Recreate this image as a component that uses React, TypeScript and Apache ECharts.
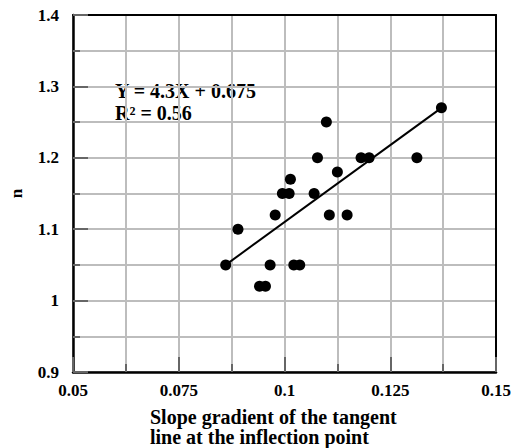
import React, { useEffect, useRef } from "react";
import * as echarts from "echarts";

const slopeGradient = [
  0.0861, 0.089, 0.0941, 0.0955, 0.0966, 0.0978, 0.0995, 0.1011, 0.1014, 0.1022,
  0.1036, 0.107, 0.1078, 0.1099, 0.1106, 0.1125, 0.1148, 0.1181, 0.12, 0.1313, 0.1371,
];
const nValues = [
  1.05, 1.1, 1.02, 1.02, 1.05, 1.12, 1.15, 1.15, 1.17, 1.05,
  1.05, 1.15, 1.2, 1.25, 1.12, 1.18, 1.12, 1.2, 1.2, 1.2, 1.27,
];
const trendX = [0.0861, 0.1371];
const trendY = [1.05, 1.27];
const equationLines = ["Y = 4.3X + 0.675", "R² = 0.56"];
const xTitleLines = ["Slope gradient of the tangent", "line at the inflection point"];
const yTitle = "n";

const FONT = "'Liberation Serif', 'Times New Roman', serif";

export default function App() {
  const ref = useRef<HTMLDivElement>(null);
  useEffect(() => {
    document.body.style.margin = "0";
    const chart = echarts.init(ref.current!, null, { renderer: "svg" });
    const gridLine = { show: true, lineStyle: { color: "#bdbdbd", width: 2, type: "solid", opacity: 1 } };
    const frameAxis = {
      type: "value",
      axisLine: { show: true, onZero: false, lineStyle: { color: "#000", width: 2 } },
      axisTick: { show: false },
      axisLabel: { show: false },
      splitLine: { show: false },
    };
    chart.setOption({
      animation: false,
      backgroundColor: "#fff",
      grid: { left: 67, top: 15, right: 23, bottom: 76 },
      xAxis: [
        {
          type: "value", min: 0.05, max: 0.15, interval: 0.025,
          axisLine: { show: true, onZero: false, lineStyle: { color: "#000", width: 2.5 } },
          axisTick: { show: true, inside: true, length: 15, lineStyle: { color: "#666", width: 2 } },
          minorTick: { show: true, splitNumber: 2, length: 8, lineStyle: { color: "#666", width: 2 } },
          splitLine: gridLine,
          minorSplitLine: gridLine,
          axisLabel: { color: "#000", fontFamily: FONT, fontWeight: "bold", fontSize: 17, margin: 10 },
        },
        { ...frameAxis, position: "top", min: 0.05, max: 0.15 },
      ],
      yAxis: [
        {
          type: "value", min: 0.9, max: 1.4, interval: 0.1,
          name: yTitle, nameLocation: "middle", nameGap: 48, nameRotate: 90,
          nameTextStyle: { color: "#000", fontFamily: FONT, fontWeight: "bold", fontSize: 17 },
          axisLine: { show: true, onZero: false, lineStyle: { color: "#000", width: 2.5 } },
          axisTick: { show: true, inside: true, length: 15, lineStyle: { color: "#666", width: 2 } },
          minorTick: { show: true, splitNumber: 2, length: 7, lineStyle: { color: "#666", width: 2 } },
          splitLine: gridLine,
          minorSplitLine: gridLine,
          axisLabel: { color: "#000", fontFamily: FONT, fontWeight: "bold", fontSize: 17, margin: 14 },
        },
        { ...frameAxis, position: "right", min: 0.9, max: 1.4 },
      ],
      graphic: [
        {
          type: "text", left: 115, top: 80,
          style: {
            text: equationLines.join("\n"), fill: "#000", font: `bold 20px ${FONT}`, lineHeight: 22,
          },
        },
        {
          type: "text", left: 150, top: 407,
          style: {
            text: xTitleLines.join("\n"), fill: "#000", font: `bold 20px ${FONT}`, lineHeight: 20,
          },
        },
      ],
      series: [
        {
          type: "line",
          data: trendX.map((x, i) => [x, trendY[i]]),
          symbol: "none",
          lineStyle: { color: "#000", width: 2 },
          z: 3,
        },
        {
          type: "scatter",
          data: slopeGradient.map((x, i) => [x, nValues[i]]),
          symbol: "circle",
          symbolSize: 11,
          itemStyle: { color: "#000", opacity: 1 },
          z: 4,
        },
      ],
    });
    return () => chart.dispose();
  }, []);
  return <div ref={ref} style={{ width: 519, height: 448 }} />;
}
